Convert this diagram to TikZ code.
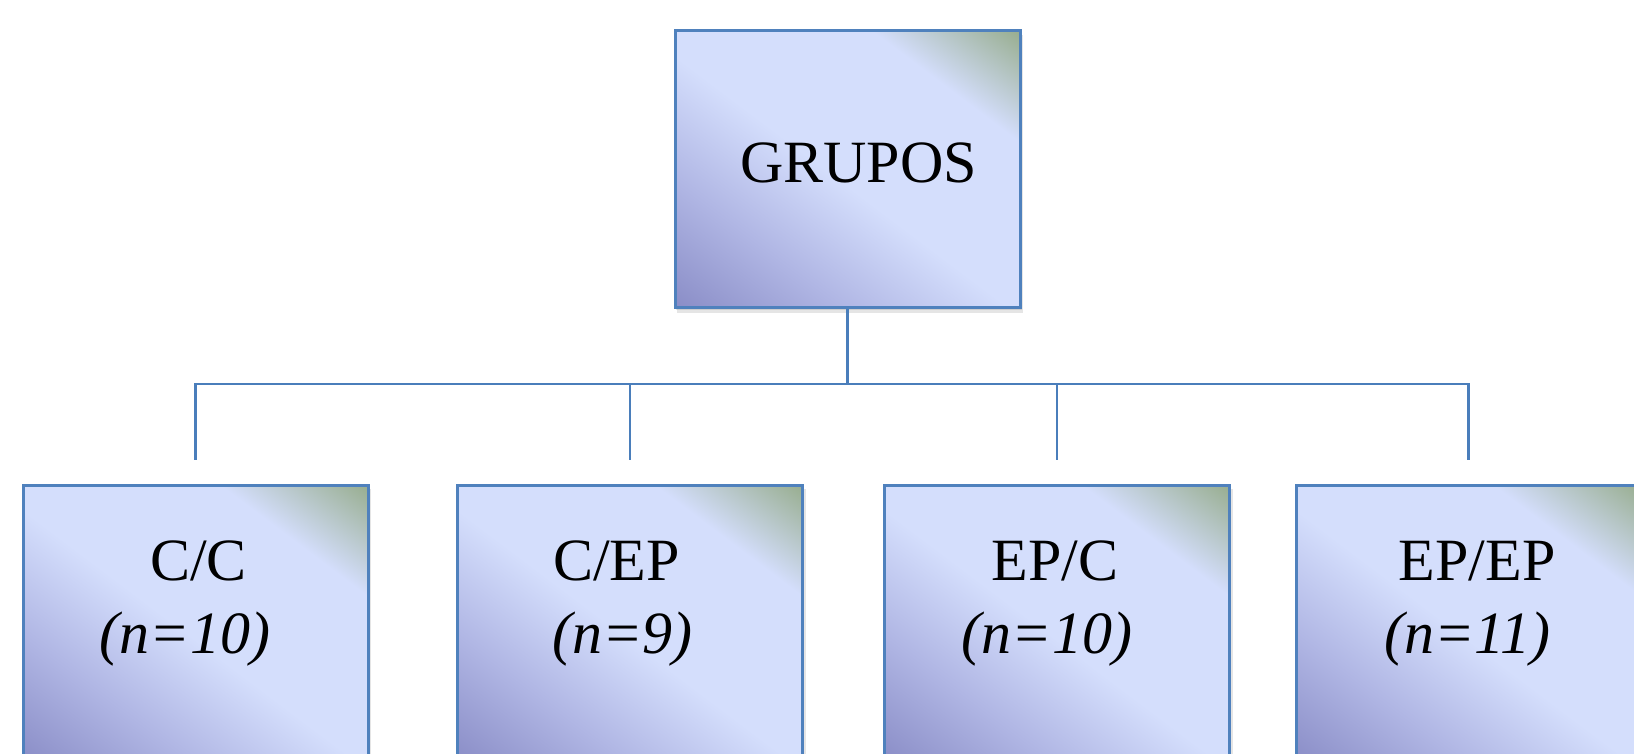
\documentclass[tikz,border=0pt]{standalone}
\usepackage{fontspec}
\setmainfont{Liberation Serif}
\usetikzlibrary{calc}

\definecolor{shDark}{RGB}{137,140,198}
\definecolor{shMid}{RGB}{176,182,228}
\definecolor{shLight}{RGB}{212,222,252}
\definecolor{shCorner}{RGB}{150,172,140}
\definecolor{boxEdge}{RGB}{79,129,189}
\definecolor{linkLine}{RGB}{74,126,187}

% diagonal fill; the box corners sit near 14.6bp and 85.4bp of the axis
\pgfdeclarehorizontalshading{boxfill}{100bp}{%
  color(0bp)=(shDark); color(14.6bp)=(shDark); color(31.6bp)=(shMid);
  color(47.9bp)=(shLight); color(70.5bp)=(shLight);
  color(85.4bp)=(shCorner); color(100bp)=(shCorner)}

\tikzset{
  groupbox/.style={rectangle, draw=boxEdge, line width=1.5pt,
    shading=boxfill, shading angle=53,
    minimum width=172.5pt, minimum height=138.5pt, inner sep=0pt},
  boxshadow/.style={fill=black, opacity=0.10},
  link/.style={draw=linkLine, line width=1.2pt},
  label/.style={inner sep=0pt, anchor=base, font=\fontsize{30pt}{36pt}\selectfont},
  count/.style={label, font=\fontsize{30pt}{36pt}\selectfont\itshape}
}

\begin{document}
\begin{tikzpicture}[x=0.5pt, y=-0.5pt]
\useasboundingbox (0,0) rectangle (1634,754);
\clip (0,0) rectangle (1634,754);

% soft drop shadows under the boxes
\foreach \cx/\cy in {847.5/169.5, 195.5/623.5, 630/623.5, 1057/623.5, 1468.5/623.5}{
  \fill[boxshadow] (\cx-172.5+2,\cy-138.5+4) rectangle (\cx+172.5+3,\cy+138.5+5);
  \fill[boxshadow] (\cx-172.5+1,\cy-138.5+2) rectangle (\cx+172.5+1.5,\cy+138.5+2.5);
}

% boxes
\node[groupbox] (top) at (847.5,169.5) {};
\node[groupbox] (g1) at (195.5,623.5) {};
\node[groupbox] (g2) at (630,623.5) {};
\node[groupbox] (g3) at (1057,623.5) {};
\node[groupbox] (g4) at (1468.5,623.5) {};

% labels
\node[label] (topText) at (858.5,183) {GRUPOS};
\node[label] (g1a) at (198.5,580) {C/C};
\node[count] (g1b) at (185,653) {(n=10)};
\node[label] (g2a) at (616.5,580) {C/EP};
\node[count] (g2b) at (622.5,653) {(n=9)};
\node[label] (g3a) at (1055,580) {EP/C};
\node[count] (g3b) at (1047,653) {(n=10)};
\node[label] (g4a) at (1477,580) {EP/EP};
\node[count] (g4b) at (1467.5,653) {(n=11)};

% connector tree
\coordinate (bar) at (847.5,384);
\coordinate (t1) at (195.5,460);
\coordinate (t2) at (630,460);
\coordinate (t3) at (1057,460);
\coordinate (t4) at (1468.5,460);

\draw[link] (top.south) -- (bar);
\draw[link, line cap=rect] (t1 |- bar) -- (t4 |- bar);
\foreach \t in {t1,t2,t3,t4}
  \draw[link] (\t |- bar) -- (\t);
\end{tikzpicture}
\end{document}
